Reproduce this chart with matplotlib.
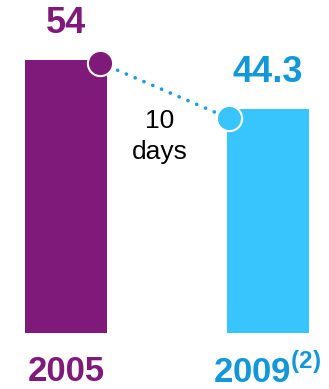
import matplotlib.pyplot as plt

plt.rcParams['font.family'] = 'Liberation Sans'
plt.rcParams['mathtext.fontset'] = 'custom'
plt.rcParams['mathtext.bf'] = 'Liberation Sans:bold'
plt.rcParams['mathtext.rm'] = 'Liberation Sans'

years = ['2005', r'2009$^{\mathbf{(2)}}$']
values = [54, 44.3]
gap_label = '10\ndays'

purple = '#7f1a7b'
cyan = '#38c4fc'
blue_txt = '#1298d8'
bar_cols = [purple, cyan]
txt_cols = [purple, blue_txt]

fig = plt.figure(figsize=(3.29, 3.89), dpi=100)
ax = fig.add_axes([0, 0, 1, 1])
ax.set_xlim(-0.3275, 1.305)
ax.set_ylim(-11.08, 65.9)
ax.axis('off')

w = 0.407
x = [0, 1]
ax.bar(x, values, width=w, color=bar_cols)

# value labels above the bars
for xi, v, c in zip(x, values, txt_cols):
    ax.annotate(f'{v:g}', (xi, v), xytext=(0, 26.5), textcoords='offset points',
                ha='center', va='center', fontsize=26, fontweight='bold', color=c)

# year labels below
for xi, lab, c in zip(x, years, txt_cols):
    ax.text(xi, -7.7, lab, ha='center', va='center', fontsize=25,
            fontweight='bold', color=c)

# dotted connector between the two bar corners
p0 = (x[0] + w / 2 - 0.035, values[0] - 0.5)
p1 = (x[1] - w / 2 + 0.012, values[1] - 1.8)
ax.plot([p0[0], p1[0]], [p0[1], p1[1]], color='#1a9ee0', lw=2.6,
        linestyle=(0, (0.05, 2.6)), dash_capstyle='round', zorder=3)
ax.scatter([p0[0]], [p0[1]], s=330, color=purple, edgecolor='white', lw=1.5, zorder=4)
ax.scatter([p1[0]], [p1[1]], s=330, color=cyan, edgecolor='white', lw=1.5, zorder=4)

ax.text(0.466, 38.9, gap_label, ha='center', va='center', fontsize=19,
        color='black', linespacing=1.35)

fig.savefig('out.png', dpi=100)
